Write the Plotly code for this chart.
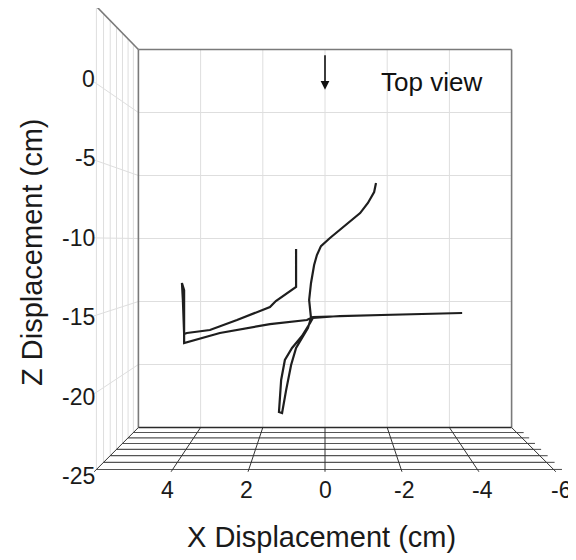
import plotly.graph_objects as go

# ---------------- data (cm) ----------------
traj_x = [0.93, 0.93, 1.58, 1.77, 2.83, 3.70, 4.44, 4.53, 4.57, 4.60,
          4.53, 4.53, 4.53, 3.38, 1.77, 0.58, 0.39, -1.86, -4.41, -2.41,
          -0.48, 0.39, 0.48, 0.74, 1.06, 1.29, 1.41, 1.48, 1.38, 1.25,
          1.09, 0.93, 0.71, 0.55, 0.45, 0.51, 0.45, 0.35, 0.26, 0.13,
          -0.16, -0.64, -1.13, -1.38, -1.58, -1.64]
traj_z = [-10.83, -13.85, -14.96, -15.44, -16.47, -17.26, -17.50, -17.58, -14.88, -13.53,
          -14.09, -16.47, -18.30, -17.50, -16.79, -16.47, -16.23, -16.07, -15.91, -16.07,
          -16.15, -16.31, -16.71, -17.74, -18.69, -19.64, -21.23, -23.77, -23.85, -22.03,
          -20.04, -18.69, -17.82, -17.10, -16.31, -14.88, -13.53, -12.10, -11.31, -10.60,
          -9.96, -9.01, -7.98, -7.18, -6.31, -5.60]

x_ticks = [4, 2, 0, -2, -4, -6]
x_tick_labels = ["4", "2", "0", "-2", "-4", "-6"]
z_ticks = [0, -5, -10, -15, -20, -25]
z_tick_labels = ["0", "-5", "-10", "-15", "-20", "-25"]
x_lim = [6, -6]
z_lim = [-25, 5]
n_depth = 7  # depth grid intervals

# ---------------- perspective helpers ----------------
K = 1.225      # front / back scale
ZC = -10.2     # vanishing height (data units)


def s_of_u(u):
    return 1.0 / (1.0 - u * (1.0 - 1.0 / K))


def proj(x, z, s):
    return s * x, ZC + s * (z - ZC)


FONT = "Liberation Sans, Arial, sans-serif"
fig = go.Figure()


def add_lines(segs, color, width):
    xs, ys = [], []
    for (a, b) in segs:
        xs += [a[0], b[0], None]
        ys += [a[1], b[1], None]
    fig.add_trace(go.Scatter(x=xs, y=ys, mode="lines",
                             line=dict(color=color, width=width),
                             hoverinfo="skip", showlegend=False))


x0, x1 = x_lim
zb, zt = z_lim
grid_x = [v for v in x_ticks if v not in x_lim]
grid_z = [v for v in z_ticks if v not in z_lim]

# back wall grid
back = []
for v in grid_x:
    back.append(((v, zb), (v, zt)))
for v in grid_z:
    back.append(((x0, v), (x1, v)))
# left wall grid
left = []
for i in range(1, n_depth + 1):
    s = s_of_u(i / n_depth)
    left.append((proj(x0, zb, s), proj(x0, zt, s)))
for v in grid_z:
    left.append(((x0, v), proj(x0, v, 1.24)))
add_lines(back + left, "#dedede", 1)

# floor depth lines
floor_y = []
for i in range(1, n_depth + 1):
    s = s_of_u(i / n_depth)
    floor_y.append((proj(x0, zb, s), proj(x1, zb, s)))
    floor_y.append((proj(x1, zb, s), proj(x1 - 0.22, zb, s)))
add_lines(floor_y, "#555555", 1.1)

# floor x lines
floor_x = []
for v in x_ticks + [x0]:
    floor_x.append(((v, zb), proj(v, zb, K * 1.01)))
add_lines(floor_x, "#333333", 1)

# box edges
edges_gray = [((x0, zb), (x0, zt)), ((x0, zt), (x1, zt)), ((x1, zt), (x1, zb)),
              ((x0, zt), proj(x0, zt, K))]
add_lines(edges_gray, "#7a7a7a", 1.6)
add_lines([((x0, zb), (x1, zb))], "#2a2a2a", 1.6)

# trajectory
fig.add_trace(go.Scatter(x=traj_x, y=traj_z, mode="lines",
                         line=dict(color="#1e1e1e", width=2.2),
                         hoverinfo="skip", showlegend=False))

ann = []
for v, t in zip(z_ticks, z_tick_labels):
    _, pz = proj(x0, v, 1.262)
    ann.append(dict(x=x0 * 1.22, y=pz, xref="x", yref="y", text=t, showarrow=False,
                    xanchor="right", yanchor="middle",
                    font=dict(family=FONT, size=23, color="#1a1a1a")))
for v, t in zip(x_ticks, x_tick_labels):
    ann.append(dict(x=v * 1.265, y=-29.96, xref="x", yref="y", text=t, showarrow=False,
                    xanchor="center", yanchor="middle",
                    font=dict(family=FONT, size=23, color="#1a1a1a")))
ann.append(dict(x=0.5451, y=0.0554, xref="paper", yref="paper",
                text="X Displacement (cm)", showarrow=False,
                xanchor="center", yanchor="middle",
                font=dict(family=FONT, size=29, color="#1a1a1a")))
ann.append(dict(x=0.0417, y=0.5643, xref="paper", yref="paper",
                text="Z Displacement (cm)", showarrow=False, textangle=-90,
                xanchor="center", yanchor="middle",
                font=dict(family=FONT, size=29, color="#1a1a1a")))
ann.append(dict(x=-1.75, y=2.42, xref="x", yref="y", text="Top view",
                showarrow=False, xanchor="left", yanchor="middle",
                font=dict(family=FONT, size=26, color="#111111")))
ann.append(dict(x=0, y=1.8, xref="x", yref="y", text="", showarrow=True,
                ax=0, ay=-36, axref="pixel", ayref="pixel",
                arrowhead=2, arrowsize=1.1, arrowwidth=1.6, arrowcolor="#111111"))

# page body adds an 8 px offset; ranges are shifted to compensate
fig.update_layout(
    width=576, height=560,
    margin=dict(l=0, r=0, t=0, b=0),
    paper_bgcolor="white", plot_bgcolor="white",
    xaxis=dict(range=[10.193, -8.328], visible=False, fixedrange=True),
    yaxis=dict(range=[-36.15, 8.295], visible=False, fixedrange=True),
    annotations=ann,
    showlegend=False,
)

fig.write_html("out.html")
